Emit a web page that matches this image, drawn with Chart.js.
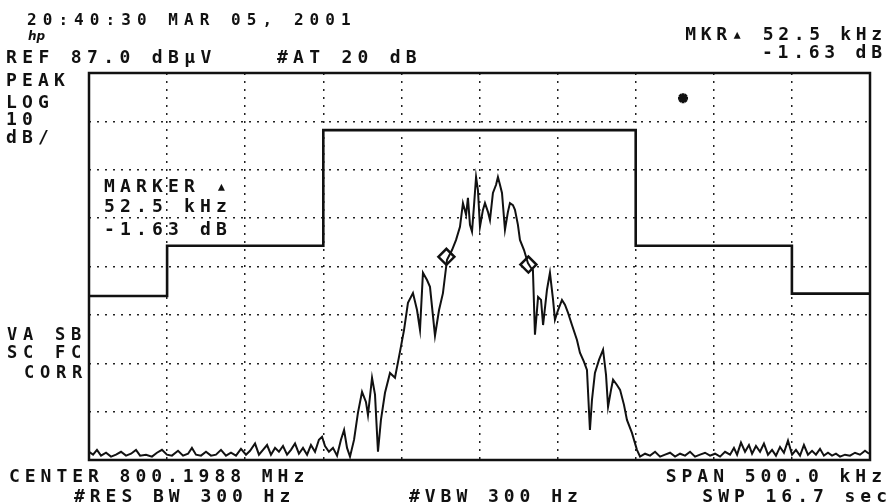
<!DOCTYPE html>
<html>
<head>
<meta charset="utf-8">
<script src="https://cdn.jsdelivr.net/npm/chart.js@4.4.1/dist/chart.umd.min.js"></script>
<style>
  body { margin: 0; background: #fff; }
  canvas { display: block; }
</style>
</head>
<body>
<canvas id="spectrum" width="889" height="504"></canvas>
<script>
// sweep: offset from center (kHz) and level (dBuV)
const traceOffsetKHz = [-250.0, -247.4, -244.9, -242.3, -239.1, -235.9, -232.7, -229.5, -226.3, -223.1,
  -219.9, -217.3, -213.5, -209.7, -206.5, -203.3, -200.1, -196.9, -193.0, -189.8,
  -186.6, -184.1, -181.5, -178.3, -175.1, -171.9, -168.7, -165.5, -162.3, -159.1,
  -155.9, -152.7, -149.5, -146.9, -143.7, -141.2, -138.6, -136.0, -133.5, -130.9,
  -128.4, -125.8, -123.2, -120.7, -118.1, -115.6, -113.0, -110.4, -107.9, -105.3,
  -102.8, -100.8, -98.9, -96.4, -93.8, -91.2, -88.7, -86.7, -84.8, -82.9,
  -80.3, -77.8, -75.2, -72.7, -71.4, -68.8, -66.9, -65.0, -63.1, -60.5,
  -57.3, -54.1, -50.9, -48.3, -45.8, -42.6, -40.0, -38.1, -36.2, -33.6,
  -31.7, -28.5, -25.9, -23.4, -20.8, -17.6, -15.0, -12.5, -10.6, -8.6,
  -7.4, -6.1, -4.8, -3.5, -2.2, -1.0, 0.3, 2.2, 3.5, 5.4,
  6.7, 8.6, 10.6, 11.8, 13.1, 14.4, 16.3, 18.2, 19.5, 21.4,
  22.7, 24.6, 25.9, 28.5, 31.0, 33.0, 34.2, 35.5, 37.5, 39.4,
  40.7, 43.2, 45.1, 47.1, 48.3, 50.3, 52.8, 54.7, 56.7, 59.2,
  62.4, 64.3, 66.9, 68.8, 70.7, 72.0, 73.9, 76.5, 79.1, 81.0,
  82.3, 84.2, 85.5, 88.0, 90.0, 92.5, 94.4, 97.6, 100.8, 102.8,
  106.0, 109.2, 112.4, 115.6, 118.8, 122.0, 125.2, 128.4, 131.6, 134.8,
  138.0, 141.2, 144.4, 147.6, 150.8, 154.0, 157.2, 160.4, 162.9, 164.9,
  167.4, 170.0, 172.5, 174.5, 177.0, 179.6, 182.1, 184.7, 187.3, 189.8,
  192.4, 194.9, 197.5, 200.1, 202.6, 205.2, 207.7, 210.3, 212.9, 215.4,
  218.0, 220.5, 223.1, 225.7, 228.2, 230.8, 234.0, 237.2, 240.4, 243.6,
  246.8, 249.4];
const traceLevelDbuv = [8.7, 8.1, 9.1, 7.9, 8.5, 7.7, 8.1, 8.7, 7.9, 8.3,
  9.1, 7.9, 8.1, 7.7, 8.5, 9.1, 8.1, 7.9, 8.9, 7.9,
  8.3, 9.5, 8.1, 7.9, 8.7, 7.9, 8.1, 9.1, 7.9, 8.5,
  7.9, 9.3, 8.1, 8.9, 10.4, 8.1, 9.1, 10.1, 8.1, 9.5,
  8.7, 9.9, 8.1, 9.1, 10.4, 8.3, 9.5, 8.1, 10.1, 8.7,
  11.2, 11.8, 9.9, 8.7, 9.5, 7.9, 11.2, 13.2, 9.5, 7.7,
  11.2, 16.8, 21.1, 19.0, 16.3, 24.0, 20.5, 8.7, 15.3, 20.9,
  25.0, 24.0, 29.4, 33.9, 39.5, 41.5, 38.0, 33.9, 45.7, 44.2,
  42.8, 32.7, 38.0, 41.5, 48.4, 50.4, 52.5, 55.2, 60.1, 57.7,
  61.2, 55.6, 54.2, 59.7, 65.5, 62.8, 55.2, 58.7, 60.1, 58.3,
  56.6, 62.2, 63.9, 65.5, 63.9, 62.2, 54.6, 58.3, 60.1, 59.7,
  58.7, 55.6, 52.5, 50.4, 47.7, 46.7, 46.3, 32.9, 40.7, 40.1,
  34.9, 42.2, 45.7, 40.1, 36.0, 38.0, 40.1, 39.1, 37.4, 34.9,
  31.8, 29.2, 27.3, 25.6, 13.2, 19.4, 25.0, 27.7, 29.8, 24.6,
  18.0, 21.5, 23.6, 22.5, 21.5, 18.4, 15.3, 12.6, 9.1, 7.7,
  8.3, 7.9, 8.7, 7.7, 8.1, 8.5, 7.7, 8.3, 7.9, 8.7,
  7.7, 8.1, 8.5, 7.9, 8.3, 7.7, 8.7, 8.1, 9.5, 8.1,
  10.6, 8.7, 10.1, 8.3, 9.9, 8.7, 10.4, 8.1, 9.1, 7.9,
  9.7, 8.5, 11.0, 8.1, 9.1, 7.9, 10.1, 8.1, 8.9, 8.1,
  9.3, 7.9, 8.5, 7.9, 8.3, 7.7, 8.1, 7.9, 8.5, 8.1,
  8.9, 8.3];

// limit line (mask)
const maskOffsetKHz = [-250, -200, -200, -100, -100, 100, 100, 200, 200, 250];
const maskLevelDbuv = [40.9, 40.9, 51.3, 51.3, 75.2, 75.2, 51.3, 51.3, 41.4, 41.4];

// delta marker pair and the peak flag
const markerOffsetKHz = [-21.2, 31.3];
const markerLevelDbuv = [49.0, 47.4];
const flagOffsetKHz = [130.3];
const flagLevelDbuv = [81.8];

const spanKHz = 500;
const refLevel = 87.0;
const dbPerDiv = 10;

function toPoints(xs, ys) {
    return xs.map((x, i) => ({ x: x, y: ys[i] }));
}

// analyzer printout font: fixed pitch, bold
function drawMono(ctx, str, x, y, size, pitch, alignRight) {
    ctx.font = 'bold ' + size + 'px "DejaVu Sans Mono", "Liberation Mono", monospace';
    const chars = Array.from(str);
    let start = x;
    if (alignRight) {
        start = x - (chars.length - 1) * pitch - ctx.measureText('M').width;
    }
    chars.forEach((ch, i) => ctx.fillText(ch, start + i * pitch, y));
}

const labels = [
    ['20:40:30 MAR 05, 2001', 27, 25, 16, 15.7, false],
    ['REF 87.0 dBµV', 6, 63, 18, 16.2, false],
    ['#AT 20 dB', 277, 63, 18, 16.1, false],
    ['MKR▴ 52.5 kHz', 882, 40, 18, 15.5, true],
    ['-1.63 dB', 882, 58, 18, 15.6, true],
    ['PEAK', 6, 86, 18, 16, false],
    ['LOG', 6, 108, 18, 16, false],
    ['10', 6, 125, 18, 16, false],
    ['dB/', 6, 143, 18, 16, false],
    ['MARKER ▴', 104, 192, 18, 16, false],
    ['52.5 kHz', 104, 212, 18, 16, false],
    ['-1.63 dB', 104, 235, 18, 16, false],
    ['VA SB', 7, 340, 17, 16, false],
    ['SC FC', 7, 358, 17, 16, false],
    ['CORR', 24, 378, 17, 16, false],
    ['CENTER 800.1988 MHz', 9, 482, 18, 15.8, false],
    ['SPAN 500.0 kHz', 882, 482, 18, 15.8, true],
    ['#RES BW 300 Hz', 74, 502, 18, 15.8, false],
    ['#VBW 300 Hz', 409, 502, 18, 15.8, false],
    ['SWP 16.7 sec', 887, 502, 18, 15.8, true]
];

const printout = {
    id: 'printout',
    beforeDraw(chart) {
        const ctx = chart.ctx;
        ctx.save();
        ctx.fillStyle = '#fff';
        ctx.fillRect(0, 0, chart.width, chart.height);
        ctx.restore();
    },
    afterDraw(chart) {
        const ctx = chart.ctx;
        const a = chart.chartArea;
        ctx.save();
        ctx.strokeStyle = '#111';
        ctx.lineWidth = 2.5;
        ctx.strokeRect(a.left, a.top, a.right - a.left, a.bottom - a.top);
        ctx.fillStyle = '#111';
        ctx.textBaseline = 'alphabetic';
        labels.forEach(l => drawMono(ctx, l[0], l[1], l[2], l[3], l[4], l[5]));
        ctx.font = 'italic bold 12px "DejaVu Sans"';
        ctx.fillText('hp', 28, 40);
        ctx.restore();
    }
};

const ctx = document.getElementById('spectrum').getContext('2d');
new Chart(ctx, {
    type: 'scatter',
    data: {
        datasets: [
            {
                label: 'trace',
                data: toPoints(traceOffsetKHz, traceLevelDbuv),
                showLine: true,
                borderColor: '#111',
                borderWidth: 2,
                pointRadius: 0,
                tension: 0
            },
            {
                label: 'limit',
                data: toPoints(maskOffsetKHz, maskLevelDbuv),
                showLine: true,
                borderColor: '#111',
                borderWidth: 2.6,
                pointRadius: 0
            },
            {
                label: 'markers',
                data: toPoints(markerOffsetKHz, markerLevelDbuv),
                pointStyle: 'rectRot',
                pointRadius: 8,
                backgroundColor: '#fff',
                borderColor: '#111',
                borderWidth: 2.5
            },
            {
                label: 'flag',
                data: toPoints(flagOffsetKHz, flagLevelDbuv),
                pointStyle: 'star',
                pointRadius: 5,
                backgroundColor: '#111',
                borderColor: '#111',
                borderWidth: 3
            }
        ]
    },
    options: {
        responsive: false,
        animation: false,
        devicePixelRatio: 1,
        layout: { padding: { left: 89, right: 19, top: 73, bottom: 44 } },
        plugins: {
            legend: { display: false },
            tooltip: { enabled: false }
        },
        scales: {
            x: {
                type: 'linear',
                min: -spanKHz / 2,
                max: spanKHz / 2,
                ticks: { display: false, stepSize: spanKHz / 10 },
                grid: { color: '#222', lineWidth: 1.5, drawTicks: false },
                border: { display: false, dash: [2, 6] }
            },
            y: {
                type: 'linear',
                min: refLevel - 8 * dbPerDiv,
                max: refLevel,
                ticks: { display: false, stepSize: dbPerDiv },
                grid: { color: '#222', lineWidth: 1.5, drawTicks: false },
                border: { display: false, dash: [2, 6] }
            }
        }
    },
    plugins: [printout]
});
</script>
</body>
</html>
